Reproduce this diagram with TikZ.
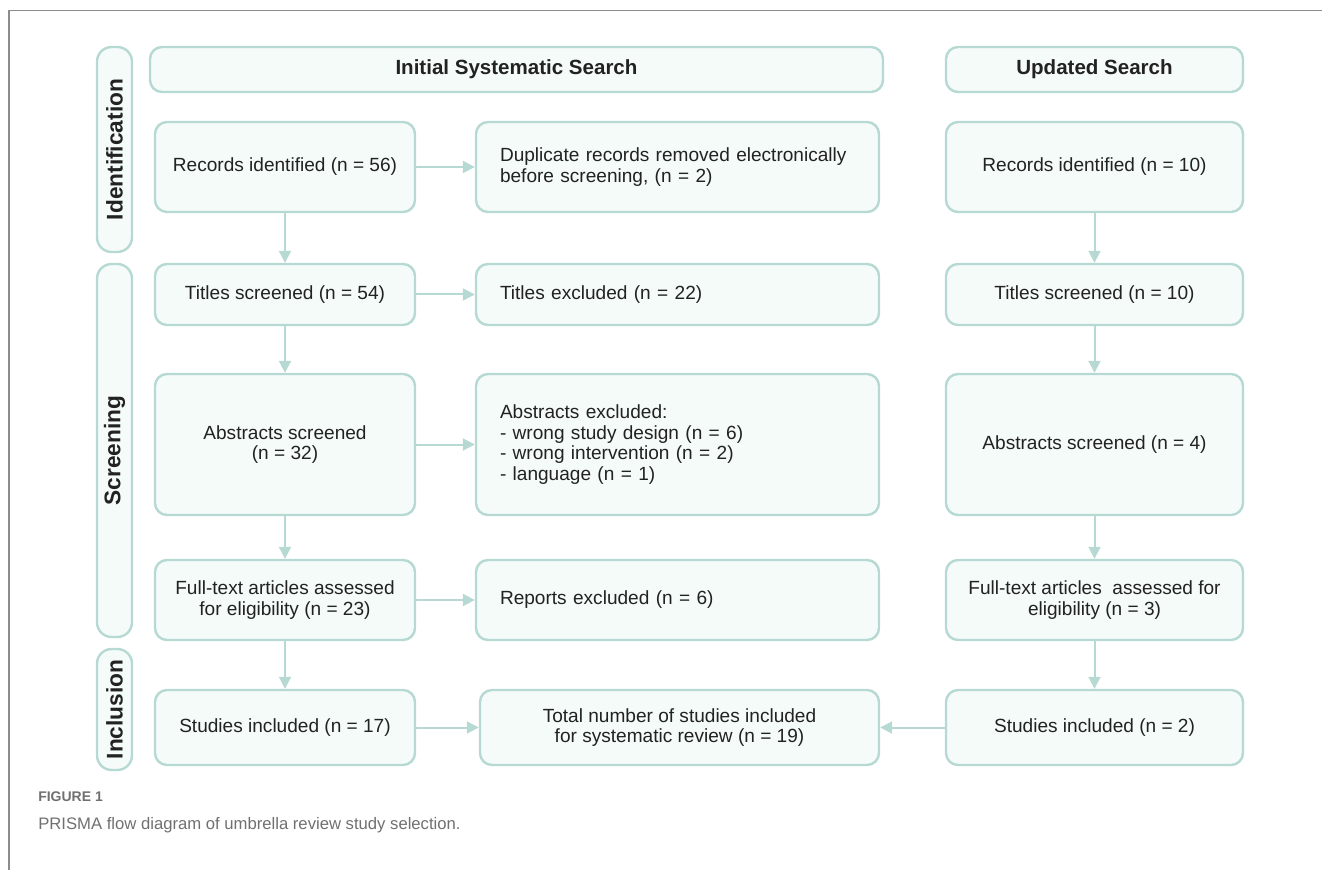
\documentclass[tikz,border=0pt]{standalone}
\usepackage{fontspec}
\setmainfont{Liberation Sans}
\usetikzlibrary{arrows.meta}
\definecolor{edgec}{HTML}{B7D9D3}
\definecolor{boxfill}{HTML}{F4FBF9}
\definecolor{framec}{HTML}{8C8C8C}
\definecolor{capc}{HTML}{707070}
\definecolor{textc}{HTML}{222222}
\begin{document}
\begin{tikzpicture}[x=0.75pt,y=-0.75pt,
  box/.style={draw=edgec, fill=boxfill, line width=1.8pt, rounded corners=9pt, text=textc,
    inner sep=0pt, font=\fontsize{14.3pt}{15.4pt}\selectfont, align=center},
  c1/.style={box, minimum width=195pt},
  c2/.style={box, text width=266.25pt, inner xsep=18pt, align=left},
  c3/.style={box, minimum width=222.75pt},
  r1/.style={minimum height=67.5pt},
  r2/.style={minimum height=45.75pt},
  r3/.style={minimum height=105.75pt},
  r4/.style={minimum height=60pt},
  r5/.style={minimum height=56.25pt},
  head/.style={box, minimum height=33.75pt, font=\fontsize{15.4pt}{17pt}\selectfont\bfseries},
  side/.style={box, rotate=90, minimum height=26.25pt, rounded corners=11pt,
    font=\fontsize{17pt}{19pt}\selectfont\bfseries},
  flow/.style={draw=edgec, line width=1.5pt, -{Triangle[length=9pt,width=9pt]}}
]
\useasboundingbox (0,0) rectangle (1322,870);
% page frame
\draw[framec, line width=1.1pt] (9,870) -- (9,10.5) -- (1322,10.5);

% side labels
\node[side, minimum width=153.75pt] (sid) at (114.5,149.5) {Identification};
\node[side, minimum width=279.75pt] (sscr) at (114.5,450.5) {Screening};
\node[side, minimum width=90.75pt] (sinc) at (114.5,709.5) {Inclusion};

% headers
\node[head, minimum width=549.75pt] (hinit) at (516.5,69.5) {Initial Systematic Search};
\node[head, minimum width=222.75pt] (hupd) at (1094.5,69.5) {Updated Search};

% column 1
\node[c1, r1] (a1) at (285,167) {Records identified (n = 56)};
\node[c1, r2] (a2) at (285,294.5) {Titles screened (n = 54)};
\node[c1, r3] (a3) at (285,444.5) {Abstracts screened\\(n = 32)};
\node[c1, r4] (a4) at (285,600) {Full-text articles assessed\\for eligibility (n = 23)};
\node[c1, r5] (a5) at (285,727.5) {Studies included (n = 17)};

% column 2
\node[c2, r1] (b1) at (677.5,167) {Duplicate records removed electronically\\before screening, (n = 2)};
\node[c2, r2] (b2) at (677.5,294.5) {Titles excluded (n = 22)};
\node[c2, r3] (b3) at (677.5,444.5) {Abstracts excluded:\\- wrong study design (n = 6)\\- wrong intervention (n = 2)\\- language (n = 1)};
\node[c2, r4] (b4) at (677.5,600) {Reports excluded (n = 6)};
\node[box, r5, minimum width=299.25pt] (tot) at (679.5,727.5) {Total number of studies included\\for systematic review (n = 19)};

% column 3
\node[c3, r1] (d1) at (1094.5,167) {Records identified (n = 10)};
\node[c3, r2] (d2) at (1094.5,294.5) {Titles screened (n = 10)};
\node[c3, r3] (d3) at (1094.5,444.5) {Abstracts screened (n = 4)};
\node[c3, r4] (d4) at (1094.5,600) {Full-text articles\ \ assessed for\\eligibility (n = 3)};
\node[c3, r5] (d5) at (1094.5,727.5) {Studies included (n = 2)};

% connectors
\draw[flow] (a1) -- (b1);
\draw[flow] (a2) -- (b2);
\draw[flow] (a3) -- (b3);
\draw[flow] (a4) -- (b4);
\draw[flow] (a5) -- (tot);
\draw[flow] (d5) -- (tot);
\draw[flow] (a1) -- (a2);
\draw[flow] (a2) -- (a3);
\draw[flow] (a3) -- (a4);
\draw[flow] (a4) -- (a5);
\draw[flow] (d1) -- (d2);
\draw[flow] (d2) -- (d3);
\draw[flow] (d3) -- (d4);
\draw[flow] (d4) -- (d5);

% caption
\node[anchor=west, inner sep=0pt, text=capc, font=\fontsize{10.5pt}{12pt}\selectfont\bfseries] (fig) at (38,797) {FIGURE 1};
\node[anchor=west, inner sep=0pt, text=capc, font=\fontsize{12.5pt}{14pt}\selectfont] (cap) at (38,825) {PRISMA flow diagram of umbrella review study selection.};
\end{tikzpicture}
\end{document}
